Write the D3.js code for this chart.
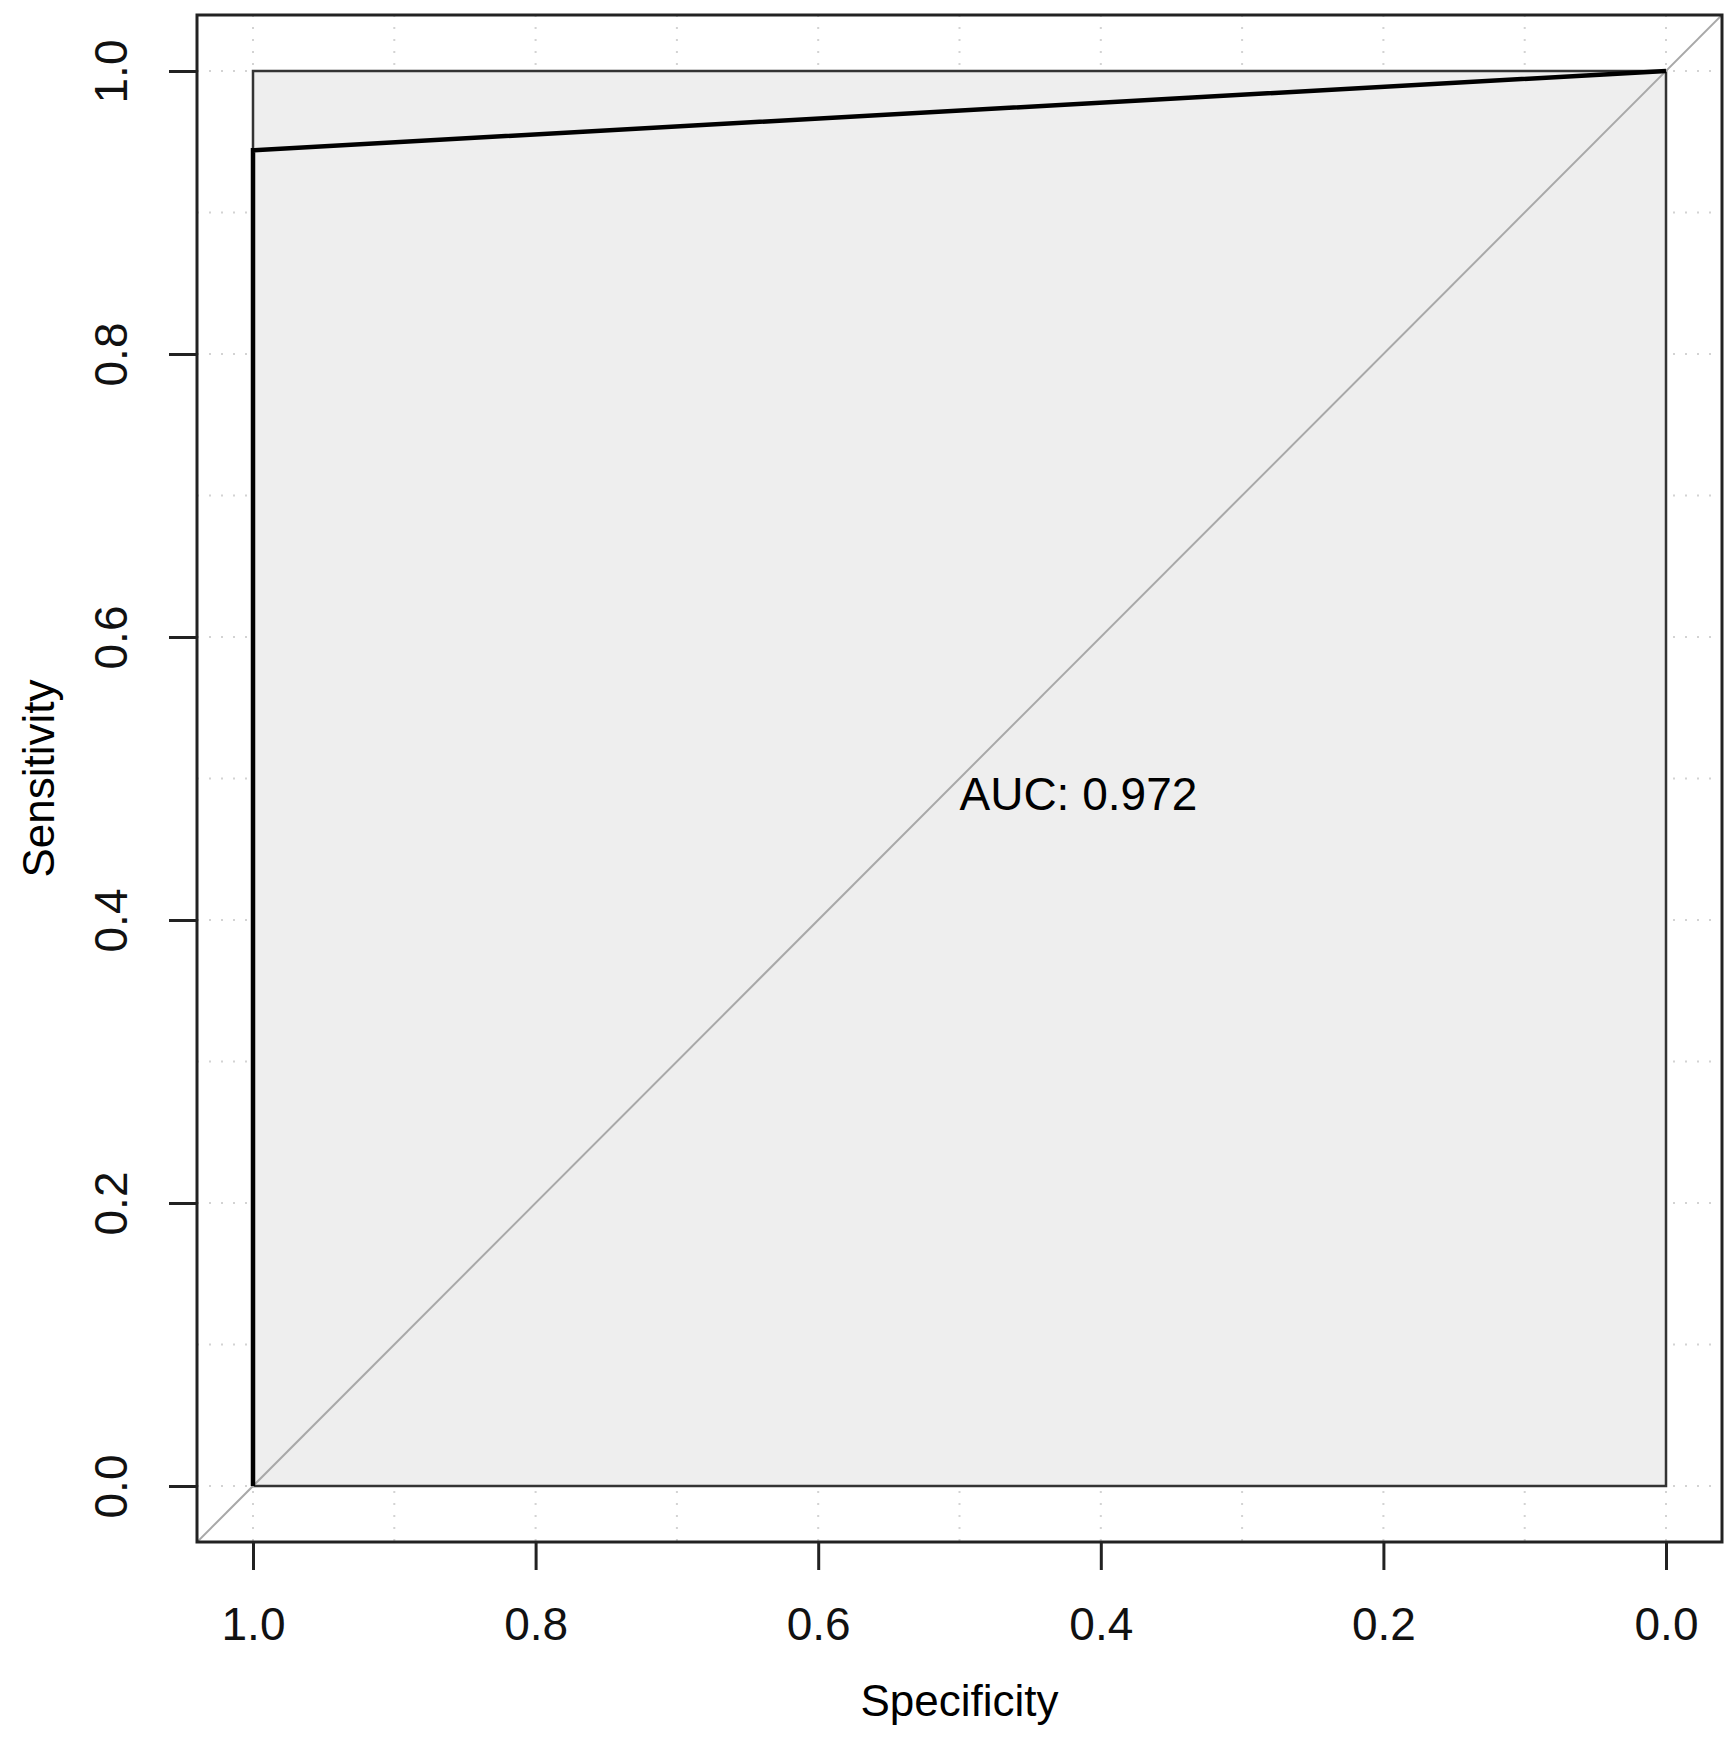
<!DOCTYPE html>
<html><head><meta charset="utf-8">
<script src="https://cdn.jsdelivr.net/npm/d3@7"></script>
<style>body{margin:0;background:#fff}text{font-family:"Liberation Sans",Arial,sans-serif}</style>
</head><body>
<script>
"use strict";
var specificity = [1, 1, 0];
var sensitivity = [0, 0.944, 1];
var ticks = [0, 0.2, 0.4, 0.6, 0.8, 1.0];
var gridVals = [0, 0.1, 0.2, 0.3, 0.4, 0.5, 0.6, 0.7, 0.8, 0.9, 1.0];
var aucLabel = "AUC: 0.972";

var W = 1735, H = 1742;
var box = {l: 197, r: 1722, t: 15, b: 1542};
var x = d3.scaleLinear().domain([1, 0]).range([253, 1666]);
var y = d3.scaleLinear().domain([0, 1]).range([1486, 71]);

var svg = d3.select("body").append("svg").attr("width", W).attr("height", H);
svg.append("defs").append("clipPath").attr("id", "clip")
    .append("rect").attr("x", box.l).attr("y", box.t)
    .attr("width", box.r - box.l).attr("height", box.b - box.t);
var plot = svg.append("g").attr("clip-path", "url(#clip)");

// dotted grid
plot.selectAll(".gx").data(gridVals).join("line")
    .attr("x1", d => x(d)).attr("x2", d => x(d)).attr("y1", box.t).attr("y2", box.b)
    .attr("stroke", "#d3d3d3").attr("stroke-width", 2).attr("stroke-dasharray", "2,10");
plot.selectAll(".gy").data(gridVals).join("line")
    .attr("y1", d => y(d)).attr("y2", d => y(d)).attr("x1", box.l).attr("x2", box.r)
    .attr("stroke", "#d3d3d3").attr("stroke-width", 2).attr("stroke-dasharray", "2,10");

// max auc polygon
plot.append("rect").attr("x", x(1)).attr("y", y(1))
    .attr("width", x(0) - x(1)).attr("height", y(0) - y(1))
    .attr("fill", "#eeeeee").attr("stroke", "#333").attr("stroke-width", 2.5);

// identity line
plot.append("line").attr("x1", x(1.1)).attr("y1", y(-0.1)).attr("x2", x(-0.1)).attr("y2", y(1.1))
    .attr("stroke", "#a8a8a8").attr("stroke-width", 2);

// ROC curve
var pts = specificity.map((s, i) => [s, sensitivity[i]]);
plot.append("path").attr("d", d3.line().x(d => x(d[0])).y(d => y(d[1]))(pts))
    .attr("fill", "none").attr("stroke", "#000").attr("stroke-width", 4.5);

svg.append("text").attr("x", x(0.5)).attr("y", y(0.5) + 31).attr("font-size", 46).text(aucLabel);

// frame
svg.append("rect").attr("x", box.l).attr("y", box.t)
    .attr("width", box.r - box.l).attr("height", box.b - box.t)
    .attr("fill", "none").attr("stroke", "#222").attr("stroke-width", 3);

// axes
var xAxis = svg.append("g").attr("transform", "translate(0," + box.b + ")")
    .call(d3.axisBottom(x).tickValues(ticks).tickFormat(d3.format(".1f")).tickSize(28).tickPadding(37));
var yAxis = svg.append("g").attr("transform", "translate(" + box.l + ",0)")
    .call(d3.axisLeft(y).tickValues(ticks).tickFormat(d3.format(".1f")).tickSize(28).tickPadding(0));
[xAxis, yAxis].forEach(a => {
    a.select(".domain").remove();
    a.selectAll("line").attr("stroke", "#222").attr("stroke-width", 3);
    a.selectAll("text").attr("font-size", 46).attr("fill", "#111")
        .style("font-family", '"Liberation Sans",Arial,sans-serif');
});
yAxis.selectAll("text").attr("x", null).attr("dy", null)
    .attr("transform", "translate(-70,0) rotate(-90)").attr("text-anchor", "middle");

svg.append("text").attr("x", (box.l + box.r) / 2).attr("y", 1716)
    .attr("text-anchor", "middle").attr("font-size", 44).text("Specificity");
svg.append("text").attr("transform", "translate(54," + (box.t + box.b) / 2 + ") rotate(-90)")
    .attr("text-anchor", "middle").attr("font-size", 44).text("Sensitivity");
</script>
</body></html>
